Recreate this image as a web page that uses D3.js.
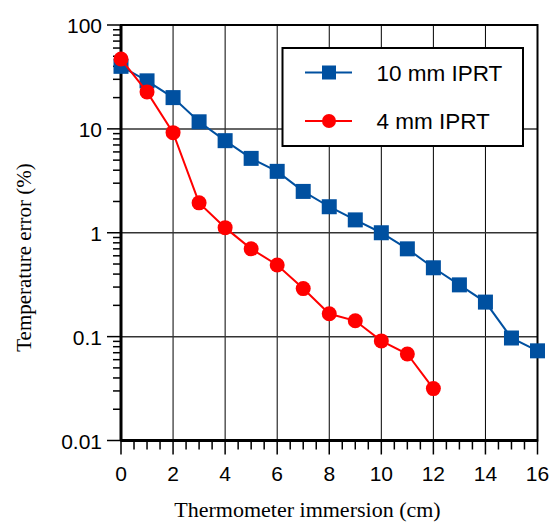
<!DOCTYPE html>
<html><head><meta charset="utf-8">
<script src="https://cdn.jsdelivr.net/npm/d3@7"></script>
<style>body{margin:0;background:#fff}svg{display:block}</style>
</head><body>
<script>
const xValues = [0,1,2,3,4,5,6,7,8,9,10,11,12,13,14,15,16];
const ipr10 = [40,29,20,11.7,7.7,5.2,3.9,2.5,1.78,1.33,1.0,0.70,0.46,0.315,0.215,0.097,0.073];
const xValues4 = [0,1,2,3,4,5,6,7,8,9,10,11,12];
const ipr4 = [47,22.7,9.2,1.94,1.12,0.70,0.49,0.29,0.166,0.142,0.091,0.068,0.0316];
const seriesNames = ["10 mm IPRT","4 mm IPRT"];
const xTicks = [0,2,4,6,8,10,12,14,16];
const yTicks = [0.01,0.1,1,10,100];
const yTickLabels = ["0.01","0.1","1","10","100"];

const W=553,H=523;
const m={l:121,r:537.5,t:25,b:440.5};
const svg=d3.select("body").append("svg").attr("width",W).attr("height",H);
const x=d3.scaleLinear().domain([0,16]).range([m.l,m.r]);
const y=d3.scaleLog().domain([0.01,100]).range([m.b,m.t]);

// grid
svg.append("g").selectAll("line").data(xTicks.slice(1,-1)).join("line")
  .attr("x1",d=>x(d)).attr("x2",d=>x(d)).attr("y1",m.t).attr("y2",m.b)
  .attr("stroke","#000").attr("stroke-width",1);
svg.append("g").selectAll("line").data(yTicks.slice(1,-1)).join("line")
  .attr("y1",d=>y(d)).attr("y2",d=>y(d)).attr("x1",m.l).attr("x2",m.r)
  .attr("stroke","#333").attr("stroke-width",1.5);

// minor ticks
const minorY=[];
for(let e=-2;e<2;e++) for(let k=2;k<=9;k++) minorY.push(k*Math.pow(10,e));
svg.append("g").selectAll("line").data(minorY).join("line")
  .attr("x1",m.l-8).attr("x2",m.l).attr("y1",d=>y(d)).attr("y2",d=>y(d))
  .attr("stroke","#000").attr("stroke-width",1.5);
svg.append("g").selectAll("line").data(yTicks).join("line")
  .attr("x1",m.l-14).attr("x2",m.l).attr("y1",d=>y(d)).attr("y2",d=>y(d))
  .attr("stroke","#000").attr("stroke-width",1.5);
const minorX=d3.range(0.5,16,0.5).filter(d=>d%2!==0);
svg.append("g").selectAll("line").data(minorX).join("line")
  .attr("x1",d=>x(d)).attr("x2",d=>x(d)).attr("y1",m.b).attr("y2",m.b+9)
  .attr("stroke","#000").attr("stroke-width",1.5);
svg.append("g").selectAll("line").data(xTicks).join("line")
  .attr("x1",d=>x(d)).attr("x2",d=>x(d)).attr("y1",m.b).attr("y2",m.b+14)
  .attr("stroke","#000").attr("stroke-width",1.5);

// frame
svg.append("rect").attr("x",m.l).attr("y",m.t).attr("width",m.r-m.l).attr("height",m.b-m.t)
  .attr("fill","none").attr("stroke","#000").attr("stroke-width",2);
svg.append("line").attr("x1",m.l).attr("x2",m.l).attr("y1",m.t).attr("y2",m.b).attr("stroke","#000").attr("stroke-width",3);
svg.append("line").attr("x1",m.l).attr("x2",m.r).attr("y1",m.b).attr("y2",m.b).attr("stroke","#000").attr("stroke-width",3);

// tick labels
const font="Liberation Sans, Arial, sans-serif";
svg.append("g").selectAll("text").data(xTicks).join("text")
  .attr("x",d=>x(d)).attr("y",m.b+40).attr("text-anchor","middle")
  .attr("font-family",font).attr("font-size",21).text(d=>d);
svg.append("g").selectAll("text").data(yTicks).join("text")
  .attr("x",m.l-19).attr("y",d=>y(d)+8).attr("text-anchor","end")
  .attr("font-family",font).attr("font-size",21).text((d,i)=>yTickLabels[i]);

// titles
svg.append("text").attr("x",307.5).attr("y",517).attr("text-anchor","middle")
  .attr("font-family","Liberation Serif, Times New Roman, serif").attr("font-size",22)
  .text("Thermometer immersion (cm)");
svg.append("text").attr("transform","translate(30.5,257.5) rotate(-90)").attr("text-anchor","middle")
  .attr("font-family","Liberation Serif, Times New Roman, serif").attr("font-size",21)
  .text("Temperature error (%)");

const blue="#0050a0", red="#ff0000";
const line=d3.line().x(d=>x(d[0])).y(d=>y(d[1]));
const d10=xValues.map((v,i)=>[v,ipr10[i]]);
const d4=xValues4.map((v,i)=>[v,ipr4[i]]);
svg.append("path").attr("d",line(d10)).attr("fill","none").attr("stroke",blue).attr("stroke-width",2);
svg.append("g").selectAll("rect").data(d10).join("rect")
  .attr("x",d=>x(d[0])-7.5).attr("y",d=>y(d[1])-7.5).attr("width",15).attr("height",15).attr("fill",blue);
svg.append("path").attr("d",line(d4)).attr("fill","none").attr("stroke",red).attr("stroke-width",2);
svg.append("g").selectAll("circle").data(d4).join("circle")
  .attr("cx",d=>x(d[0])).attr("cy",d=>y(d[1])).attr("r",7.5).attr("fill",red);

// legend
const lg=svg.append("g");
lg.append("rect").attr("x",282.5).attr("y",48).attr("width",240.5).attr("height",98)
  .attr("fill","#fff").attr("stroke","#000").attr("stroke-width",2);
const rows=[{n:seriesNames[0],c:blue,s:"sq",yy:72.5},{n:seriesNames[1],c:red,s:"ci",yy:121}];
rows.forEach(r=>{
  lg.append("line").attr("x1",305).attr("x2",352).attr("y1",r.yy).attr("y2",r.yy).attr("stroke",r.c).attr("stroke-width",2);
  if(r.s==="sq") lg.append("rect").attr("x",322).attr("y",r.yy-7).attr("width",14).attr("height",14).attr("fill",r.c);
  else lg.append("circle").attr("cx",329).attr("cy",r.yy).attr("r",7).attr("fill",r.c);
  lg.append("text").attr("x",376.5).attr("y",r.yy+8).attr("font-family",font).attr("font-size",22.5).text(r.n);
});
</script>
</body></html>
